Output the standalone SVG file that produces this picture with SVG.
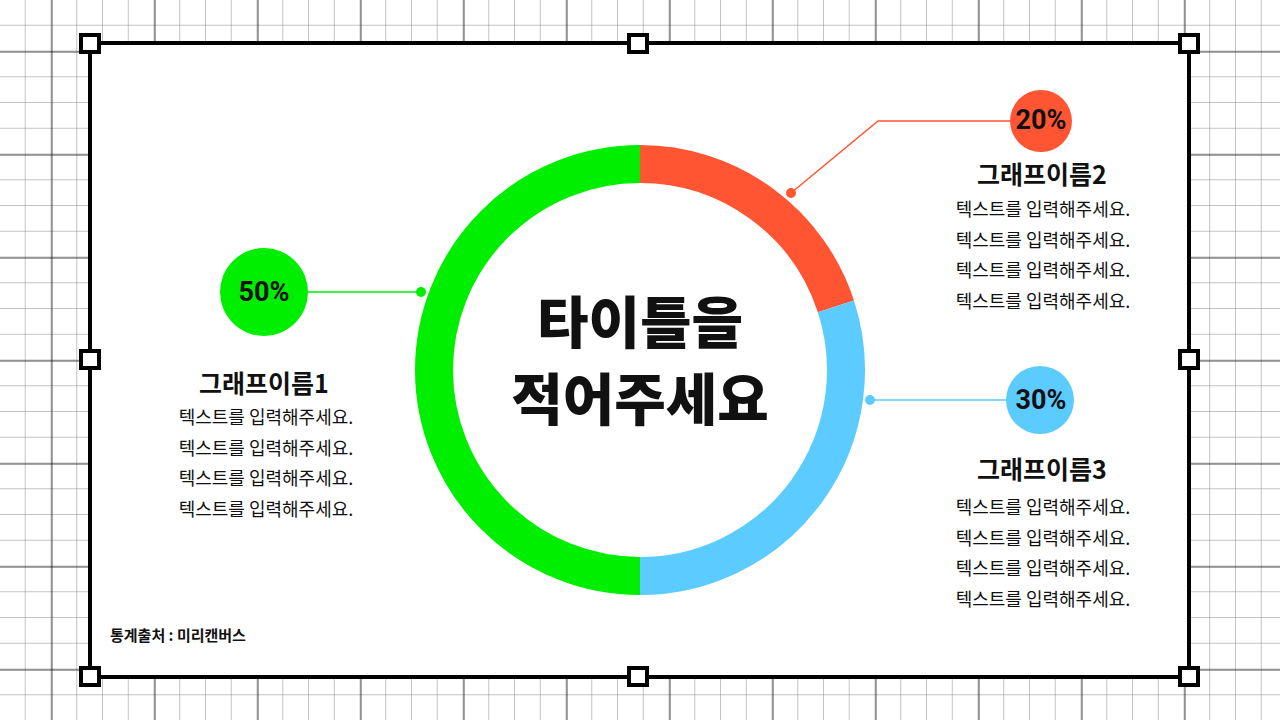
<svg xmlns="http://www.w3.org/2000/svg" width="1280" height="720" viewBox="0 0 1280 720">
<defs>
<pattern id="minor" width="25.75" height="25.75" patternUnits="userSpaceOnUse" x="0" y="0">
<path d="M25.75 0V25.75M0 25.75H25.75" fill="none" stroke="#888" stroke-width="1"/>
</pattern>
<pattern id="major" width="103" height="103" patternUnits="userSpaceOnUse" x="51.5" y="51.5">
<path d="M0 0V103M0 0H103" fill="none" stroke="#111" stroke-width="1.5"/>
</pattern>
<style>
.k{font-family:"Noto Sans CJK KR","Noto Sans",sans-serif;fill:#111}
.b{font-size:18px;text-anchor:middle}
.h{font-size:25px;font-weight:700;text-anchor:middle}
.p{font-size:27px;font-weight:700;text-anchor:middle;font-family:Roboto,"Noto Sans",sans-serif;fill:#111}
.hd{fill:#fff;stroke:#000;stroke-width:4}
</style>
</defs>
<rect width="1280" height="720" fill="#fff"/>
<rect width="1280" height="720" fill="url(#minor)"/>
<rect width="1280" height="720" fill="url(#major)"/>
<rect x="90" y="43" width="1099" height="634" fill="#fff" stroke="#000" stroke-width="4"/>
<g id="handles">
<rect class="hd" x="81" y="35" width="18" height="17"/><rect class="hd" x="629" y="35" width="18" height="17"/><rect class="hd" x="1180" y="35" width="18" height="17"/>
<rect class="hd" x="81" y="351" width="18" height="17"/><rect class="hd" x="1180" y="351" width="18" height="17"/>
<rect class="hd" x="81" y="668" width="18" height="17"/><rect class="hd" x="629" y="668" width="18" height="17"/><rect class="hd" x="1180" y="668" width="18" height="17"/>
</g>
<g id="donut" fill="none" stroke-width="38">
<path d="M640 164A206 206 0 0 0 640 576" stroke="#00ee00"/>
<path d="M640 164A206 206 0 0 1 835.9 306.3" stroke="#ff5533"/>
<path d="M835.9 306.3A206 206 0 0 1 640 576" stroke="#5ccbff"/>
</g>
<g id="connectors" stroke-width="1.5" fill="none">
<path d="M300 292H421" stroke="#00ee00"/><circle cx="421" cy="292" r="5" fill="#00ee00"/>
<path d="M1012 121H878L791 193" stroke="#ff5533"/><circle cx="791" cy="193" r="5" fill="#ff5533"/>
<path d="M1010 400H870" stroke="#5ccbff"/><circle cx="870" cy="400" r="5" fill="#5ccbff"/>
</g>
<g id="title"><text class="k" x="640" y="343" font-size="56" font-weight="900" text-anchor="middle">타이틀을</text>
<text class="k" x="640" y="420" font-size="56" font-weight="900" text-anchor="middle">적어주세요</text></g>
<g id="n1"><circle cx="264" cy="292" r="44" fill="#00ee00"/><text class="p" x="264" y="301">50%</text>
<text class="k h" x="264" y="393">그래프이름1</text>
<text class="k b" x="266" y="424">텍스트를 입력해주세요.</text><text class="k b" x="266" y="455">텍스트를 입력해주세요.</text><text class="k b" x="266" y="485">텍스트를 입력해주세요.</text><text class="k b" x="266" y="516">텍스트를 입력해주세요.</text></g>
<g id="n2"><circle cx="1041" cy="121" r="31" fill="#ff5533"/><text class="p" x="1041" y="129" font-size="23">20%</text>
<text class="k h" x="1042" y="184">그래프이름2</text>
<text class="k b" x="1043" y="216">텍스트를 입력해주세요.</text><text class="k b" x="1043" y="247">텍스트를 입력해주세요.</text><text class="k b" x="1043" y="277">텍스트를 입력해주세요.</text><text class="k b" x="1043" y="308">텍스트를 입력해주세요.</text></g>
<g id="n3"><circle cx="1040" cy="400" r="34" fill="#5ccbff"/><text class="p" x="1041" y="409" font-size="24">30%</text>
<text class="k h" x="1042" y="479">그래프이름3</text>
<text class="k b" x="1043" y="514">텍스트를 입력해주세요.</text><text class="k b" x="1043" y="545">텍스트를 입력해주세요.</text><text class="k b" x="1043" y="575">텍스트를 입력해주세요.</text><text class="k b" x="1043" y="606">텍스트를 입력해주세요.</text></g>
<text class="k" x="110" y="641" font-size="15" font-weight="700">통계출처 : 미리캔버스</text>
</svg>
